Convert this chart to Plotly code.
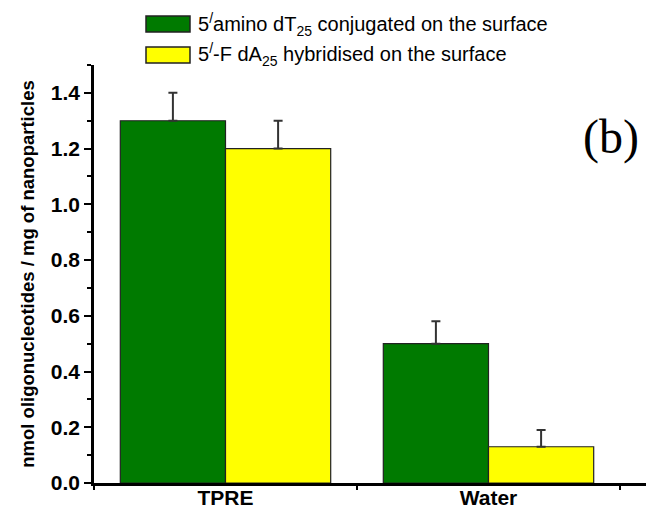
import plotly.graph_objects as go

categories = ["TPRE", "Water"]
amino_values = [1.30, 0.50]
amino_errors = [0.10, 0.08]
hybrid_values = [1.20, 0.13]
hybrid_errors = [0.10, 0.06]
series_names = ["5<sup>/</sup>amino dT<sub>25</sub> conjugated on the surface",
                "5<sup>/</sup>-F dA<sub>25</sub> hybridised on the surface"]
series_colors = ["#007a00", "#ffff00"]
y_ticks = [0.0, 0.2, 0.4, 0.6, 0.8, 1.0, 1.2, 1.4]

xpos = list(range(len(categories)))

fig = go.Figure()
for vals, errs, col, name in [(amino_values, amino_errors, series_colors[0], series_names[0]),
                              (hybrid_values, hybrid_errors, series_colors[1], series_names[1])]:
    fig.add_trace(go.Bar(
        x=xpos, y=vals, name=name, showlegend=False,
        marker=dict(color=col, line=dict(color="#222222", width=1.2)),
        error_y=dict(type="data", array=errs, arrayminus=[0]*len(errs), symmetric=False,
                     color="#333333", thickness=2, width=4.5),
    ))

# legend drawn as boxes + text
leg_y = [24, 55]
for i, (name, col) in enumerate(zip(series_names, series_colors)):
    fig.add_shape(type="rect", xref="paper", yref="paper",
                  x0=(146-94)/560, x1=(190-94)/560,
                  y0=(483-(leg_y[i]+8))/418, y1=(483-(leg_y[i]-8))/418,
                  fillcolor=col, line=dict(color="#222222", width=1.5))
    fig.add_annotation(xref="paper", yref="paper", x=(196-94)/560, y=(483-leg_y[i])/418,
                       text=name, showarrow=False, xanchor="left", yanchor="middle",
                       font=dict(family="Liberation Sans, Arial", size=20, color="black"))

fig.add_annotation(xref="paper", yref="paper", x=(611-94)/560, y=(483-137)/418,
                   text="(b)", showarrow=False, xanchor="center", yanchor="middle",
                   font=dict(family="Liberation Serif, Times New Roman", size=48, color="black"))

# page body has an 8px default margin: figure occupies 8..654 x 8..510
fig.update_layout(
    width=646, height=502,
    margin=dict(l=86, r=0, t=57, b=27),
    plot_bgcolor="white", paper_bgcolor="white",
    barmode="group", bargap=0.2, bargroupgap=0,
    font=dict(family="Liberation Sans, Arial", color="black"),
)
fig.update_xaxes(
    range=[-0.5, -0.5 + 560/263], tickvals=xpos, ticktext=["<b>%s</b>" % c for c in categories],
    ticks="", showgrid=False, zeroline=False, automargin=False,
    showline=True, linecolor="black", linewidth=2.5,
    tickfont=dict(size=21, family="Liberation Sans, Arial"),
    ticklabelstandoff=-6,
    minor=dict(tick0=-0.5, dtick=1, ticks="outside", ticklen=4, tickwidth=1.5, tickcolor="black"),
)
fig.update_yaxes(
    range=[0, 1.5], tickvals=y_ticks, ticktext=["<b>%.1f</b>" % v for v in y_ticks],
    ticks="outside", ticklen=7, tickwidth=2, tickcolor="black",
    showgrid=False, zeroline=False, automargin=False,
    showline=True, linecolor="black", linewidth=2.5,
    tickfont=dict(size=21, family="Liberation Sans, Arial"),
    minor=dict(dtick=0.1, tick0=0, ticks="outside", ticklen=4, tickwidth=1.5, tickcolor="black"),
    title=dict(text="<b>nmol oligonucleotides / mg of nanoparticles</b>",
               font=dict(size=18.5, family="Liberation Sans, Arial"), standoff=12),
)

fig.write_html("out.html")
